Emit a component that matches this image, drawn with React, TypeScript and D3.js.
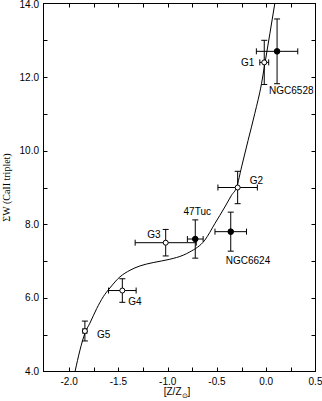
import * as d3 from 'd3';

// cluster measurements
const clusterNames = ['G1', 'G2', 'G3', 'G4', 'G5', '47Tuc', 'NGC6528', 'NGC6624'];
const clusterZ = [-0.02, -0.29, -1.02, -1.46, -1.84, -0.72, 0.11, -0.36];
const clusterEW = [12.4, 9.0, 7.5, 6.2, 5.1, 7.6, 12.7, 7.8];
const clusterZErr = [0.045, 0.2, 0.31, 0.14, 0.02, 0.08, 0.21, 0.16];
const clusterEWErr = [0.6, 0.44, 0.36, 0.32, 0.27, 0.52, 0.88, 0.53];
const clusterOpen = [true, true, true, true, true, false, false, false];

// calibration curve
const fitZ = [-1.94, -1.89, -1.84, -1.79, -1.72, -1.654, -1.586, -1.485, -1.383, -1.28, -1.147, -0.978, -0.843, -0.775, -0.623, -0.521, -0.42, -0.352, -0.3, -0.25, -0.184, -0.116, -0.048, -0.014, 0.037, 0.087];
const fitEW = [4.0, 4.58, 5.04, 5.31, 5.71, 6.03, 6.27, 6.57, 6.75, 6.87, 6.96, 7.05, 7.16, 7.25, 7.57, 8.02, 8.47, 8.79, 9.01, 9.56, 10.28, 11.01, 11.82, 12.36, 13.18, 14.0];

const xTickValues = [-2.0, -1.5, -1.0, -0.5, 0.0, 0.5];
const xTickLabels = ['-2.0', '-1.5', '-1.0', '-0.5', '0.0', '0.5'];
const xMinorTicks = [-2.0, -1.75, -1.5, -1.25, -1.0, -0.75, -0.5, -0.25, 0.0, 0.25];
const yTickValues = [4, 6, 8, 10, 12, 14];
const yTickLabels = ['4.0', '6.0', '8.0', '10.0', '12.0', '14.0'];
const yMinorTicks = [5, 6, 7, 8, 9, 10, 11, 12, 13];

// label offsets in pixels from each marker
const labelPos = {
  G1: { dx: -10, dy: 4, anchor: 'end' },
  G2: { dx: 12, dy: -4, anchor: 'start' },
  G3: { dx: -5, dy: -5, anchor: 'end' },
  G4: { dx: 6, dy: 14, anchor: 'start' },
  G5: { dx: 12, dy: 7, anchor: 'start' },
  '47Tuc': { dx: 2, dy: -24, anchor: 'middle' },
  NGC6528: { dx: -8, dy: 43, anchor: 'start' },
  NGC6624: { dx: -5, dy: 32, anchor: 'start' },
};

const W = 322;
const H = 401;
const left = 43.5;
const right = 315.5;
const top = 3.5;
const bottom = 371.5;
const font = '"Liberation Sans", Arial, sans-serif';

export default function App() {
  const x = d3.scaleLinear().domain([-2.26, 0.5]).range([left, right]);
  const y = d3.scaleLinear().domain([4, 14]).range([bottom, top]);

  const line = d3.line()
    .x((d) => x(d[0]))
    .y((d) => y(d[1]))
    .curve(d3.curveMonotoneX);
  const fitPath = line(fitZ.map((z, i) => [z, fitEW[i]]));

  const tickLen = 4;
  const cap = 3;

  return (
    <svg width={W} height={H} style={{ position: 'absolute', left: 0, top: 0, background: '#fff' }}>
      <defs>
        <clipPath id="plot">
          <rect x={left} y={top} width={right - left} height={bottom - top} />
        </clipPath>
      </defs>
      <rect x={0} y={0} width={W} height={H} fill="#fff" />

      {/* frame */}
      <rect x={left} y={top} width={right - left} height={bottom - top} fill="none" stroke="#000" strokeWidth={1} />

      {/* x ticks, bottom and top */}
      {xMinorTicks.map((v) => (
        <g key={'xt' + v}>
          <line x1={Math.round(x(v)) + 0.5} x2={Math.round(x(v)) + 0.5} y1={bottom} y2={bottom - tickLen} stroke="#000" />
          <line x1={Math.round(x(v)) + 0.5} x2={Math.round(x(v)) + 0.5} y1={top} y2={top + tickLen} stroke="#000" />
        </g>
      ))}
      {xTickValues.map((v, i) => (
        <text key={'xl' + v} x={x(v)} y={385} textAnchor="middle" fontFamily={font} fontSize={10}>
          {xTickLabels[i]}
        </text>
      ))}

      {/* y ticks, left and right */}
      {yMinorTicks.map((v) => (
        <g key={'yt' + v}>
          <line x1={left} x2={left + tickLen} y1={Math.round(y(v)) + 0.5} y2={Math.round(y(v)) + 0.5} stroke="#000" />
          <line x1={right} x2={right - tickLen} y1={Math.round(y(v)) + 0.5} y2={Math.round(y(v)) + 0.5} stroke="#000" />
        </g>
      ))}
      {yTickValues.map((v, i) => (
        <text key={'yl' + v} x={39} y={Math.max(y(v) + 3.5, 8)} textAnchor="end" fontFamily={font} fontSize={10}>
          {yTickLabels[i]}
        </text>
      ))}

      {/* axis titles */}
      <text x={177} y={395} textAnchor="middle" fontFamily={font} fontSize={10}>
        [Z/Z<tspan fontSize={7} dy={3}>⊙</tspan><tspan dy={-3}>]</tspan>
      </text>
      <text
        transform={`translate(10, ${(top + bottom) / 2}) rotate(-90)`}
        textAnchor="middle"
        fontFamily='"Liberation Serif", "Times New Roman", serif'
        fontSize={10}
      >
        ΣW (CaII triplet)
      </text>

      {/* fitted curve */}
      <path d={fitPath} fill="none" stroke="#000" strokeWidth={1} clipPath="url(#plot)" />

      {/* error bars and markers */}
      {clusterNames.map((name, i) => {
        const cx = x(clusterZ[i]);
        const cy = y(clusterEW[i]);
        const x0 = x(clusterZ[i] - clusterZErr[i]);
        const x1 = x(clusterZ[i] + clusterZErr[i]);
        const y0 = y(clusterEW[i] - clusterEWErr[i]);
        const y1 = y(clusterEW[i] + clusterEWErr[i]);
        const lp = labelPos[name];
        return (
          <g key={name} stroke="#000" strokeWidth={1}>
            <line x1={x0} x2={x1} y1={cy} y2={cy} />
            <line x1={x0} x2={x0} y1={cy - cap} y2={cy + cap} />
            <line x1={x1} x2={x1} y1={cy - cap} y2={cy + cap} />
            <line x1={cx} x2={cx} y1={y0} y2={y1} />
            <line x1={cx - cap} x2={cx + cap} y1={y0} y2={y0} />
            <line x1={cx - cap} x2={cx + cap} y1={y1} y2={y1} />
            {clusterOpen[i] ? (
              <circle cx={cx} cy={cy} r={2.5} fill="#fff" />
            ) : (
              <circle cx={cx} cy={cy} r={2.8} fill="#000" />
            )}
            <text
              x={cx + lp.dx}
              y={cy + lp.dy}
              textAnchor={lp.anchor}
              fontFamily={font}
              fontSize={10}
              stroke="none"
              fill="#000"
            >
              {name}
            </text>
          </g>
        );
      })}
    </svg>
  );
}
